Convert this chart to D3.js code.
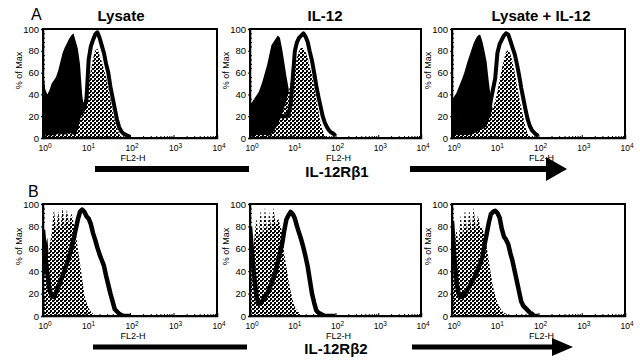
<!DOCTYPE html>
<html><head><meta charset="utf-8">
<script src="https://cdn.jsdelivr.net/npm/d3@7"></script>
<style>
body{margin:0;background:#fff}
svg{display:block}
text{font-family:"Liberation Sans",Arial,Helvetica,sans-serif;fill:#000}
</style>
</head><body><svg id="c" width="640" height="361"></svg>
<script>
// ---------- data ----------
const columnTitles = ["Lysate", "IL-12", "Lysate + IL-12"];
const rowLetters = ["A", "B"];
const rowMarkers = ["IL-12R\u03B21", "IL-12R\u03B22"];
const yTicks = [0, 20, 40, 60, 80, 100];
const xTicks = [1, 10, 100, 1000, 10000];
const xTickExp = ["0", "1", "2", "3", "4"];
const xTitle = "FL2-H";
const yTitle = "% of Max";
// log10(FL2-H) bin positions
const logBins = [0,0.05,0.1,0.15,0.2,0.25,0.3,0.35,0.4,0.45,0.5,0.55,0.6,0.65,0.7,0.75,0.8,0.85,0.9,0.95,
  1,1.05,1.1,1.15,1.2,1.25,1.3,1.35,1.4,1.45,1.5,1.55,1.6,1.65,1.7,1.75,1.8,1.85,1.9,1.95,2];

// Row A (IL-12Rb1): control (black fill), stippled sample, outlined sample
const A1_ctrl = [62,45,40,44,50,53,56,62,70,78,83,87,91,94,96,89,82,68,40,25,15,8,4,2,1,0,0,0,0,0,0,0,0,0,0,0,0,0,0,0,0];
const A1_stip = [0,2,3,2,3,2,3,4,3,4,3,4,5,4,3,2,8,16,26,36,42,52,62,73,80,82,76,70,63,56,46,36,25,16,10,4,0,0,0,0,0];
const A1_out  = [20,20,20,20,20,20,20,20,20,20,20,20,20,20,20,20,20,22,24,28,36,72,84,90,95,97,92,85,78,68,60,47,37,27,17,10,6,4,3,2,1];

const A2_ctrl = [31,33,36,39,42,47,53,60,67,76,85,88,91,94,92,82,70,57,46,32,20,10,5,2,0,0,0,0,0,0,0,0,0,0,0,0,0,0,0,0,0];
const A2_stip = [0,2,1,3,2,3,2,3,2,2,4,6,9,12,17,22,28,34,42,50,57,65,74,80,83,82,79,73,65,58,47,36,25,14,7,2,0,0,0,0,0];
const A2_out  = [20,20,20,20,20,20,20,20,20,20,20,20,20,20,20,20,20,20,22,30,55,80,88,92,94,96,93,88,79,71,60,48,38,29,20,14,10,7,5,4,2];

const A3_ctrl = [35,38,41,46,51,56,62,69,75,81,87,91,94,95,89,80,70,52,36,24,14,7,3,1,0,0,0,0,0,0,0,0,0,0,0,0,0,0,0,0,0];
const A3_stip = [0,2,3,2,3,2,3,2,3,3,4,5,6,7,8,9,11,16,22,28,34,43,53,63,72,79,81,77,70,60,49,38,28,19,10,4,0,0,0,0,0];
const A3_out  = [22,22,22,22,22,22,22,22,22,22,22,22,22,22,22,22,22,22,35,45,55,78,86,90,94,96,95,89,83,77,68,58,46,36,26,17,11,7,5,3,2];

// Row B (IL-12Rb2)
const B1_ctrl = [78,62,70,45,22,10,5,2,0,0,0,0,0,0,0,0,0,0,0,0,0,0,0,0,0,0,0,0,0,0,0,0,0,0,0,0,0,0,0,0,0];
const B1_stip = [30,40,50,62,74,96,76,94,78,97,80,95,82,92,84,76,60,47,33,19,12,7,4,2,1,0,0,0,0,0,0,0,0,0,0,0,0,0,0,0,0];
const B1_out  = [77,55,38,24,18,17,21,26,31,36,41,47,53,60,68,77,86,93,95,93,89,87,82,74,68,61,55,50,45,36,28,20,13,6,4,2,1,0,0,0,0];

const B2_ctrl = [80,60,45,25,12,5,2,0,0,0,0,0,0,0,0,0,0,0,0,0,0,0,0,0,0,0,0,0,0,0,0,0,0,0,0,0,0,0,0,0,0];
const B2_stip = [40,55,68,88,70,95,72,97,75,93,78,97,80,88,82,75,56,44,32,22,14,8,5,3,1,0,0,0,0,0,0,0,0,0,0,0,0,0,0,0,0];
const B2_out  = [80,55,35,18,11,12,14,17,20,24,29,34,40,48,56,64,76,86,90,93,91,87,80,74,68,61,53,44,32,20,12,5,3,2,1,0,0,0,0,0,0];

const B3_ctrl = [85,65,40,20,10,4,0,0,0,0,0,0,0,0,0,0,0,0,0,0,0,0,0,0,0,0,0,0,0,0,0,0,0,0,0,0,0,0,0,0,0];
const B3_stip = [45,60,78,65,90,72,96,74,95,76,97,78,90,80,78,73,62,50,37,26,18,12,8,5,3,2,0,0,0,0,0,0,0,0,0,0,0,0,0,0,0];
const B3_out  = [85,55,32,20,17,18,20,23,26,30,33,37,42,47,52,63,73,83,91,93,94,92,88,78,71,68,64,56,49,40,31,22,13,9,7,5,3,2,0,0,0];

const panelData = [
  [[A1_ctrl, A1_stip, A1_out], [A2_ctrl, A2_stip, A2_out], [A3_ctrl, A3_stip, A3_out]],
  [[B1_ctrl, B1_stip, B1_out], [B2_ctrl, B2_stip, B2_out], [B3_ctrl, B3_stip, B3_out]]
];

// ---------- layout ----------
const cols = [{x0: 43, x1: 217}, {x0: 250, x1: 421}, {x0: 452, x1: 625}];
const rows = [{y0: 29, y1: 138}, {y0: 204, y1: 316}];

const svg = d3.select("#c");
const defs = svg.append("defs");
const pat = defs.append("pattern").attr("id", "stip")
  .attr("patternUnits", "userSpaceOnUse").attr("width", 4).attr("height", 4);
pat.append("rect").attr("width", 4).attr("height", 4).attr("fill", "#fff");
pat.append("rect").attr("x", 0).attr("y", 0).attr("width", 2).attr("height", 2).attr("fill", "#000");
pat.append("rect").attr("x", 2).attr("y", 2).attr("width", 2).attr("height", 2).attr("fill", "#000");
pat.append("rect").attr("x", 2).attr("y", 0).attr("width", 1).attr("height", 1).attr("fill", "#000");

const minorX = [];
[1, 10, 100, 1000].forEach(d => [2,3,4,5,6,7,8,9].forEach(m => minorX.push(d * m)));
const minorY = d3.range(0, 101, 4).filter(v => v % 20 !== 0);

rows.forEach((r, ri) => {
  cols.forEach((c, ci) => {
    const [ctrl, stip, out] = panelData[ri][ci];
    const x = d3.scaleLog().domain([1, 1e4]).range([c.x0, c.x1]);
    const y = d3.scaleLinear().domain([0, 100]).range([r.y1, r.y0]);
    const g = svg.append("g");
    const cid = "clip" + ri + ci;
    defs.append("clipPath").attr("id", cid).append("rect")
      .attr("x", c.x0).attr("y", r.y0 - 3).attr("width", c.x1 - c.x0).attr("height", r.y1 - r.y0 + 4);
    const pg = g.append("g").attr("clip-path", `url(#${cid})`);
    const pts = arr => arr.map((v, i) => [Math.pow(10, logBins[i]), v]);
    const area = d3.area().x(d => x(d[0])).y0(y(0)).y1(d => y(d[1]));
    const line = d3.line().x(d => x(d[0])).y(d => y(d[1]));
    pg.append("path").attr("d", area(pts(ctrl))).attr("fill", "#000");
    pg.append("path").attr("d", area(pts(stip))).attr("fill", "url(#stip)");
    pg.append("path").attr("d", line(pts(out))).attr("fill", "none")
      .attr("stroke", "#000").attr("stroke-width", ri === 0 ? 4 : 4.5).attr("stroke-linejoin", "round");

    // frame
    g.append("rect").attr("x", c.x0).attr("y", r.y0).attr("width", c.x1 - c.x0).attr("height", r.y1 - r.y0)
      .attr("fill", "none").attr("stroke", "#000").attr("stroke-width", 1.2).attr("shape-rendering", "crispEdges");

    // y axis
    const ya = g.append("g").attr("transform", `translate(${c.x0},0)`)
      .call(d3.axisLeft(y).tickValues(yTicks).tickSize(2).tickPadding(2));
    ya.select(".domain").attr("stroke-width", 1.5);
    ya.selectAll("text").attr("font-size", 9.5).attr("font-family", "'Liberation Sans',Arial,sans-serif");
    g.append("g").attr("transform", `translate(${c.x0},0)`)
      .call(d3.axisLeft(y).tickValues(minorY).tickSize(-2).tickFormat(""))
      .select(".domain").remove();

    // x axis
    const xa = g.append("g").attr("transform", `translate(0,${r.y1})`)
      .call(d3.axisBottom(x).tickValues(xTicks).tickSize(-3).tickPadding(6).tickFormat(""));
    xa.select(".domain").attr("stroke-width", 1.5);
    g.append("g").attr("transform", `translate(0,${r.y1})`)
      .call(d3.axisBottom(x).tickValues(minorX).tickSize(-2).tickFormat(""))
      .select(".domain").remove();
    xTicks.forEach((t, i) => {
      const tx = g.append("text").attr("x", x(t) + 2).attr("y", r.y1 + 13)
        .attr("text-anchor", "middle").attr("font-size", 8.5);
      tx.append("tspan").text("10");
      tx.append("tspan").attr("dy", -3).attr("font-size", 6.5).text(xTickExp[i]);
    });
    g.append("text").attr("x", x(100) + 3).attr("y", r.y1 + 23).attr("text-anchor", "middle")
      .attr("font-size", 9).text(xTitle);

    // y title
    g.append("text").attr("transform", `translate(${c.x0 - 21},${r.y0 + (r.y1 - r.y0) * 0.38}) rotate(-90)`)
      .attr("text-anchor", "middle").attr("font-size", 9).text(yTitle);
  });
});

// column titles
const colTitleX = [121, 325, 541];
columnTitles.forEach((t, i) => {
  svg.append("text").attr("x", colTitleX[i]).attr("y", 21).attr("text-anchor", "middle")
    .attr("font-size", 15).attr("font-weight", "bold").text(t);
});
// row letters
svg.append("text").attr("x", 31).attr("y", 20).attr("font-size", 16).text(rowLetters[0]);
svg.append("text").attr("x", 28).attr("y", 197).attr("font-size", 16).text(rowLetters[1]);

// marker bars / arrows
const bars = [
  {yc: 169, w: 6, bx0: 95, bx1: 249, ax0: 410, abase: 546, atip: 567, ah: 12, lx: 337, ly: 177},
  {yc: 347, w: 5, bx0: 93, bx1: 247, ax0: 412, abase: 552, atip: 573, ah: 9, lx: 336, ly: 354}
];
bars.forEach((b, i) => {
  svg.append("line").attr("x1", b.bx0).attr("x2", b.bx1).attr("y1", b.yc).attr("y2", b.yc)
    .attr("stroke", "#000").attr("stroke-width", b.w);
  svg.append("line").attr("x1", b.ax0).attr("x2", b.abase + 2).attr("y1", b.yc).attr("y2", b.yc)
    .attr("stroke", "#000").attr("stroke-width", b.w);
  svg.append("path").attr("d", `M${b.abase},${b.yc - b.ah}L${b.atip},${b.yc}L${b.abase},${b.yc + b.ah}Z`).attr("fill", "#000");
  svg.append("text").attr("x", b.lx).attr("y", b.ly).attr("text-anchor", "middle")
    .attr("font-size", 15).attr("font-weight", "bold").text(rowMarkers[i]);
});
</script>
</body></html>
